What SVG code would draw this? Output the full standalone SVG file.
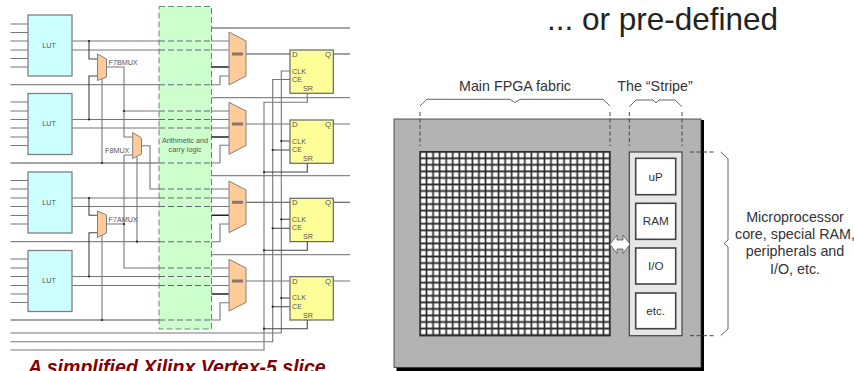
<svg xmlns="http://www.w3.org/2000/svg" width="854" height="371" viewBox="0 0 854 371">
<defs>
<style>
text{font-family:"Liberation Sans",Arial,sans-serif}
.w{fill:none;stroke:#777;stroke-width:1.1}
.wd{fill:none;stroke:#444;stroke-width:1.1}
.wk{fill:none;stroke:#222;stroke-width:1.5}
.g{fill:none;stroke:#888;stroke-width:1.3}
.da{fill:none;stroke:#667;stroke-width:1.1;stroke-dasharray:6 3}
.lut{fill:#ccffff;stroke:#808080;stroke-width:1.3}
.mux{fill:#ffcc99;stroke:#808080;stroke-width:1}
.ff{fill:#ffff99;stroke:#666;stroke-width:1.2}
.t{font-size:7.200px;fill:#555}
.big{font-size:7.800px;fill:#555}
.tc{font-size:7.200px;fill:#555;text-anchor:middle}
.br{fill:none;stroke:#555;stroke-width:.9}
.lc{font-size:14.300px;fill:#333;text-anchor:middle}
.box{fill:#fff;stroke:#444;stroke-width:1.6}
.bt{font-size:11.700px;fill:#333;text-anchor:middle}
.dd{fill:none;stroke:#444;stroke-width:1;stroke-dasharray:4 2.5}
</style>
<pattern id="cell" x="416.730" y="148.430" width="6.550" height="6.550" patternUnits="userSpaceOnUse">
<rect width="6.550" height="6.550" fill="#fff"/>
<path d="M0 3.270H6.550M3.270 0V6.550" fill="none" stroke="#2a2a2a" stroke-width="1.700"/>
</pattern>
</defs>
<rect width="854" height="371" fill="#fff"/>

<g id="arith">
<rect x="159" y="6.500" width="52.500" height="322.500" fill="#ccffcc" stroke="#5f8f6f" stroke-width="1" stroke-dasharray="6 3"/>
<text class="tc" x="185" y="143">Arithmetic and</text>
<text class="tc" x="185" y="152">carry logic</text>
</g>

<g id="connectors">
<path class="w" d="M10.500 24H28M10.500 32.500H28M10.500 41H28M10.500 50H28M10.500 58.500H28M10.500 67H28"/>
<path class="w" d="M10.500 102H28M10.500 111H28M10.500 119.500H28M10.500 128H28M10.500 137H28M10.500 145.500H28"/>
<path class="w" d="M10.500 180.500H28M10.500 189H28M10.500 198H28M10.500 206.500H28M10.500 215.500H28M10.500 224H28"/>
<path class="w" d="M10.500 259H28M10.500 268H28M10.500 276.500H28M10.500 285.500H28M10.500 294H28M10.500 302.500H28"/>
<path class="w" d="M72 41H159M72 50H159M72 119.500H159M72 128H159M72 198H159M72 206.500H159M72 276.500H159M72 285.500H159"/>
<path class="g" d="M10.500 84.700H159M10.500 163H159M10.500 241.700H159M10.500 320H159"/>
<path class="da" d="M159 41H211.500M159 50H211.500M159 84.700H211.500M159 111H211.500M159 119.500H211.500M159 128H211.500M159 163H211.500M159 189H211.500M159 198H211.500M159 206.500H211.500M159 241.700H211.500M159 268H211.500M159 276.500H211.500M159 285.500H211.500M159 320H211.500"/>
<path class="w" d="M211.500 41H229M211.500 50H229M211.500 111H229M211.500 119.500H229M211.500 128H229M211.500 189H229M211.500 198H229M211.500 206.500H229M211.500 268H229M211.500 276.500H229M211.500 285.500H229"/>
<path class="wk" d="M211.500 67H229M211.500 137H229M211.500 215.300H229M211.500 294H229"/>
<path class="w" d="M211.500 84.700H220V76H229M211.500 163H220V145.300H229M211.500 241.700H220V224H229M211.500 320H220V302.700H229"/>
<path class="g" d="M211.500 28H350M211.500 97.700H350M211.500 175.700H350M211.500 254.700H350"/>
<path class="wd" d="M89 41V59H97.500M89 119.500V76H97.500M89 198V215.300H97.500M89 276.500V232.700H97.500"/>
<path class="w" d="M102 78V163M102 235V320M106.500 67H124V137H132.700M124 111H159M106.500 224H124M124 155H132.700M124 155V268H159M137 157V241.700M141.500 145.700H150V189H159"/>
<path class="wd" d="M246 54H290M333.300 54H350M246 202.300H290M333.300 202.300H350"/>
<path class="w" d="M246 124H290M333.300 124H350M246 281H290M333.300 281H350"/>
<path class="w" d="M10.500 333H281.300V71H290M10.500 341.700H272.700V79.500H290M10.500 350H264V102.300H307.300V93.300"/>
<path class="wd" d="M281.300 141H290M272.700 150H290M307.300 163.300V172H264M281.300 219.300H290M272.700 228.300H290M307.300 241.700V250.300H264M281.300 298H290M272.700 306.700H290M307.300 320V328.700H264"/>
<g fill="#222">
<circle cx="89" cy="41" r="1.100"/><circle cx="89" cy="119.500" r="1.100"/><circle cx="89" cy="198" r="1.100"/><circle cx="89" cy="276.500" r="1.100"/>
<circle cx="124" cy="111" r="1.100"/><circle cx="124" cy="224" r="1.100"/><circle cx="137" cy="241.700" r="1.100"/><circle cx="102" cy="320" r="1.100"/><circle cx="102" cy="163" r="1.100"/>
<circle cx="281.300" cy="141" r="1.100"/><circle cx="272.700" cy="150" r="1.100"/><circle cx="264" cy="172" r="1.100"/><circle cx="281.300" cy="219.300" r="1.100"/><circle cx="272.700" cy="228.300" r="1.100"/><circle cx="264" cy="250.300" r="1.100"/><circle cx="281.300" cy="298" r="1.100"/><circle cx="272.700" cy="306.700" r="1.100"/><circle cx="264" cy="328.700" r="1.100"/>
</g>
</g>

<g id="lut1"><rect class="lut" x="28" y="15" width="44" height="61"/><text class="tc" x="49" y="47.500">LUT</text></g>
<g id="lut2"><rect class="lut" x="28" y="93.500" width="44" height="61"/><text class="tc" x="49" y="126">LUT</text></g>
<g id="lut3"><rect class="lut" x="28" y="172" width="44" height="61"/><text class="tc" x="49" y="204.500">LUT</text></g>
<g id="lut4"><rect class="lut" x="28" y="250.500" width="44" height="61"/><text class="tc" x="49" y="283">LUT</text></g>

<g id="f7bmux"><path class="mux" d="M97.500 54L106.500 59V77L97.500 80.500Z"/><text class="t" x="108.500" y="65">F7BMUX</text></g>
<g id="f8mux"><path class="mux" d="M132.700 132.500L141.500 138V154L132.700 158.500Z"/><text class="t" x="105" y="152.500">F8MUX</text></g>
<g id="f7amux"><path class="mux" d="M97.500 211L106.500 215V233L97.500 237.500Z"/><text class="t" x="108.500" y="222">F7AMUX</text></g>

<g id="mux1"><path class="mux" d="M229 32L246 41V76L229 85Z"/><rect x="232" y="52.500" width="11" height="3" fill="#85786c"/></g>
<g id="mux2"><path class="mux" d="M229 102.300L246 111V145.500L229 154.300Z"/><rect x="232" y="122.500" width="11" height="3" fill="#85786c"/></g>
<g id="mux3"><path class="mux" d="M229 181L246 190V224L229 232.700Z"/><rect x="232" y="200.800" width="11" height="3" fill="#85786c"/></g>
<g id="mux4"><path class="mux" d="M229 259.300L246 268V302.500L229 311Z"/><rect x="232" y="279.500" width="11" height="3" fill="#85786c"/></g>

<g id="ff1"><rect class="ff" x="290" y="50" width="43.300" height="43.300"/><text class="big" x="292" y="57">D</text><text class="big" x="325" y="57">Q</text><text class="t" x="292" y="73.500">CLK</text><text class="t" x="292" y="82">CE</text><text class="t" x="303" y="91">SR</text></g>
<g id="ff2"><rect class="ff" x="290" y="120" width="43.300" height="43.300"/><text class="big" x="292" y="127">D</text><text class="big" x="325" y="127">Q</text><text class="t" x="292" y="143.500">CLK</text><text class="t" x="292" y="152">CE</text><text class="t" x="303" y="161">SR</text></g>
<g id="ff3"><rect class="ff" x="290" y="198.300" width="43.300" height="43.300"/><text class="big" x="292" y="205.300">D</text><text class="big" x="325" y="205.300">Q</text><text class="t" x="292" y="221.800">CLK</text><text class="t" x="292" y="230.300">CE</text><text class="t" x="303" y="239.300">SR</text></g>
<g id="ff4"><rect class="ff" x="290" y="276.700" width="43.300" height="43.300"/><text class="big" x="292" y="283.700">D</text><text class="big" x="325" y="283.700">Q</text><text class="t" x="292" y="300.200">CLK</text><text class="t" x="292" y="308.700">CE</text><text class="t" x="303" y="317.700">SR</text></g>

<text id="caption" x="28" y="374" font-size="19.500" font-weight="bold" font-style="italic" fill="#800000">A simplified Xilinx Vertex-5 slice</text>
<text id="title" x="547" y="30" font-size="31.500" fill="#222">... or pre-defined</text>

<g id="chip">
<rect x="396.500" y="120" width="307.500" height="251" fill="#000"/>
<rect x="394" y="119" width="307" height="248.500" fill="#b3b3b3" stroke="#333" stroke-width=".8"/>
</g>
<g id="fabric"><rect x="420" y="151.700" width="190" height="184" fill="url(#cell)" stroke="#2a2a2a" stroke-width="1.400"/></g>
<g id="stripe"><rect x="629.300" y="152" width="52.700" height="183.700" fill="#e6e6e6" stroke="#444" stroke-width="1.200"/></g>
<g id="up"><rect class="box" x="635.700" y="158.300" width="40" height="36.400"/><text class="bt" x="655.700" y="180.500">uP</text></g>
<g id="ram"><rect class="box" x="635.700" y="203.300" width="40" height="36"/><text class="bt" x="655.700" y="225.300">RAM</text></g>
<g id="io"><rect class="box" x="635.700" y="248" width="40" height="36"/><text class="bt" x="655.700" y="270">I/O</text></g>
<g id="etc"><rect class="box" x="635.700" y="293" width="40" height="35.700"/><text class="bt" x="655.700" y="314.500">etc.</text></g>
<g id="link"><path d="M610 244.300L617 235V240H623V235L630 244.300L623 253.600V249H617V253.600Z" fill="#fff" stroke="#555" stroke-width=".8"/></g>

<g id="annotations">
<path class="br" d="M420 106L426.700 99.300H510L515 102.500L520 99.300H603L610 106"/>
<path class="br" d="M629.300 106.700L636 100H653L656 103L659 100H675L682 106.700"/>
<path class="br" d="M720.700 152L728 158.700V240L724 243.500L728 247V329L720.700 335.700"/>
<path class="dd" d="M420 112V146M610 112V146M629.300 112V146M682 112V146M690 152H716M690 335.700H716"/>
<text class="lc" x="515" y="90.500">Main FPGA fabric</text>
<text class="lc" x="655" y="90.500">The “Stripe”</text>
<text class="lc" x="795" y="221.500">Microprocessor</text>
<text class="lc" x="795" y="239">core, special RAM,</text>
<text class="lc" x="795" y="256">peripherals and</text>
<text class="lc" x="795" y="274">I/O, etc.</text>
</g>
</svg>
